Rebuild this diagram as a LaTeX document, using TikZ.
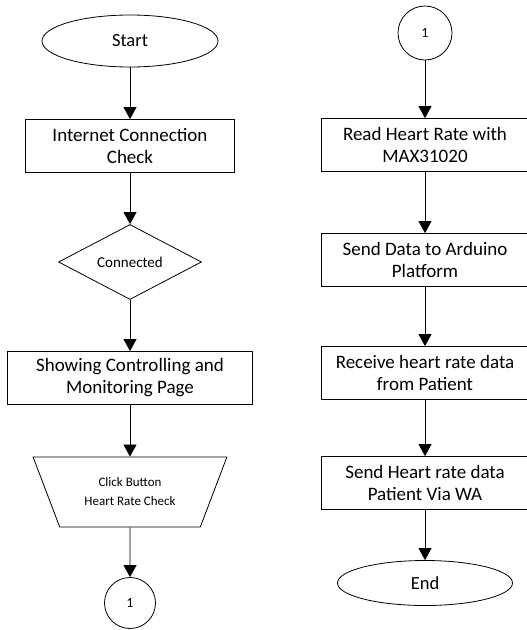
\documentclass[tikz,border=0pt]{standalone}
\usepackage{fontspec}
\setmainfont{Carlito}
\usetikzlibrary{shapes.geometric,arrows.meta}

\begin{document}
\begin{tikzpicture}[x=1pt, y=-1pt,
    >={Triangle[length=12pt,width=13pt]},
    flow/.style={black, thick, ->},
    procbox/.style={draw, line width=0.8pt, align=center, minimum height=53pt, inner sep=2pt, font=\fontsize{19}{22}\selectfont},
    termnode/.style={draw, ellipse, line width=0.8pt, font=\fontsize{18.5}{22}\selectfont},
    decision/.style={draw, diamond, aspect=1.9, inner sep=1pt, line width=0.8pt, minimum width=143pt, minimum height=75pt, font=\fontsize{15}{18}\selectfont},
    inputnode/.style={draw, trapezium, shape border rotate=180, trapezium stretches=true, trapezium angle=62, minimum width=194pt, minimum height=70pt, line width=0.8pt, align=center, font=\fontsize{13}{19}\selectfont},
    connector/.style={draw, circle, line width=0.8pt, minimum size=51pt, inner sep=0pt, font=\fontsize{14}{16}\selectfont}]
            \useasboundingbox (0, 0) rectangle (527, 630);

            % left column
            \node[termnode, minimum width=176pt, minimum height=52pt] (start) at (130, 41) {Start};
            \node[procbox, minimum width=209pt] (netcheck) at (130, 146) {Internet Connection\\Check};
            \node[decision] (connected) at (130, 262) {Connected};
            \node[procbox, minimum width=245pt] (monpage) at (130, 378) {Showing Controlling and\\Monitoring Page};
            \node[inputnode] (clickbtn) at (130, 492) {Click Button\\Heart Rate Check};
            \node[connector] (linkA) at (130, 603) {1};

            % right column
            \node[connector, minimum size=54pt] (linkB) at (425, 33) {1};
            \node[procbox, minimum width=208pt] (readhr) at (425, 145) {Read Heart Rate with\\MAX31020};
            \node[procbox, minimum width=208pt] (senddata) at (425, 260) {Send Data to Arduino\\Platform};
            \node[procbox, minimum width=208pt] (recvdata) at (425, 373) {Receive heart rate data\\from Patient};
            \node[procbox, minimum width=208pt] (sendwa) at (425, 483) {Send Heart rate data\\Patient Via WA};
            \node[termnode, minimum width=175pt, minimum height=45pt] (finish) at (425, 583) {End};

            \draw[flow] (start) -- (netcheck);
            \draw[flow] (netcheck) -- (connected);
            \draw[flow] (connected) -- (monpage);
            \draw[flow] (monpage) -- (clickbtn);
            \draw[flow] (clickbtn) -- (linkA);

            \draw[flow] (linkB) -- (readhr);
            \draw[flow] (readhr) -- (senddata);
            \draw[flow] (senddata) -- (recvdata);
            \draw[flow] (recvdata) -- (sendwa);
            \draw[flow] (sendwa) -- (finish);
        \end{tikzpicture}
\end{document}
